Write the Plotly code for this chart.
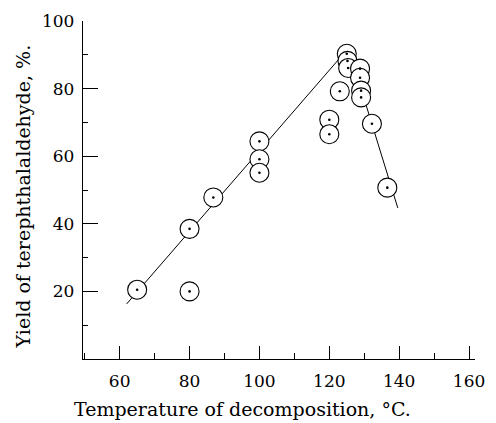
import plotly.graph_objects as go

# Data
temp = [65, 80, 80, 86.8, 100, 100, 100, 120, 120, 123, 125, 125.2, 125.4, 128.8, 128.8, 129.1, 129.1, 132.2, 136.6]
yield_pct = [20.5, 38.5, 20.0, 47.8, 64.4, 59.1, 55.1, 70.8, 66.5, 79.2, 90.3, 88.2, 86.1, 85.9, 83.2, 79.4, 77.4, 69.6, 50.7]

fit_x = [62.0, 125.5, 139.6]
fit_y = [16.3, 92.0, 44.7]

x_ticks = [60, 80, 100, 120, 140, 160]
y_ticks = [20, 40, 60, 80, 100]

FONT = "DejaVu Serif"

fig = go.Figure()
fig.add_trace(go.Scatter(x=fit_x, y=fit_y, mode="lines",
                         line=dict(color="black", width=1), hoverinfo="skip"))
fig.add_trace(go.Scatter(x=temp, y=yield_pct, mode="markers",
                         marker=dict(symbol="circle", size=19, color="white",
                                     line=dict(color="black", width=1.1))))
fig.add_trace(go.Scatter(x=temp, y=yield_pct, mode="markers",
                         marker=dict(symbol="circle", size=2.6, color="black")))

axis_common = dict(showgrid=False, zeroline=False, showline=True, linecolor="black",
                   linewidth=1.3, ticks="inside", tickcolor="black", tickwidth=1,
                   tickfont=dict(family=FONT, size=17, color="black"))

fig.update_xaxes(range=[49.5, 161.7], tickvals=x_ticks, ticklen=13,
                 ticklabelstandoff=6,
                 minor=dict(ticks="inside", ticklen=6, dtick=10, tick0=50,
                            tickcolor="black", tickwidth=1),
                 **axis_common)
fig.update_yaxes(range=[0, 100], tickvals=y_ticks, ticklen=15,
                 ticklabelstandoff=4,
                 minor=dict(ticks="inside", ticklen=5, dtick=10, tick0=0,
                            tickcolor="black", tickwidth=1),
                 **axis_common)

fig.add_annotation(text="Temperature of decomposition, °C.", xref="paper", yref="paper",
                   x=0.407, y=-0.147, xanchor="center", yanchor="middle", showarrow=False,
                   font=dict(family=FONT, size=19, color="black"))
fig.add_annotation(text="Yield of terephthalaldehyde, %.", xref="paper", yref="paper",
                   x=-0.154, y=0.48, xanchor="center", yanchor="middle", showarrow=False,
                   textangle=-90, font=dict(family=FONT, size=19, color="black"))

fig.update_layout(width=496, height=423, margin=dict(l=83, r=17, t=11, b=64),
                  paper_bgcolor="white", plot_bgcolor="white", showlegend=False)

fig.write_html("out.html")
